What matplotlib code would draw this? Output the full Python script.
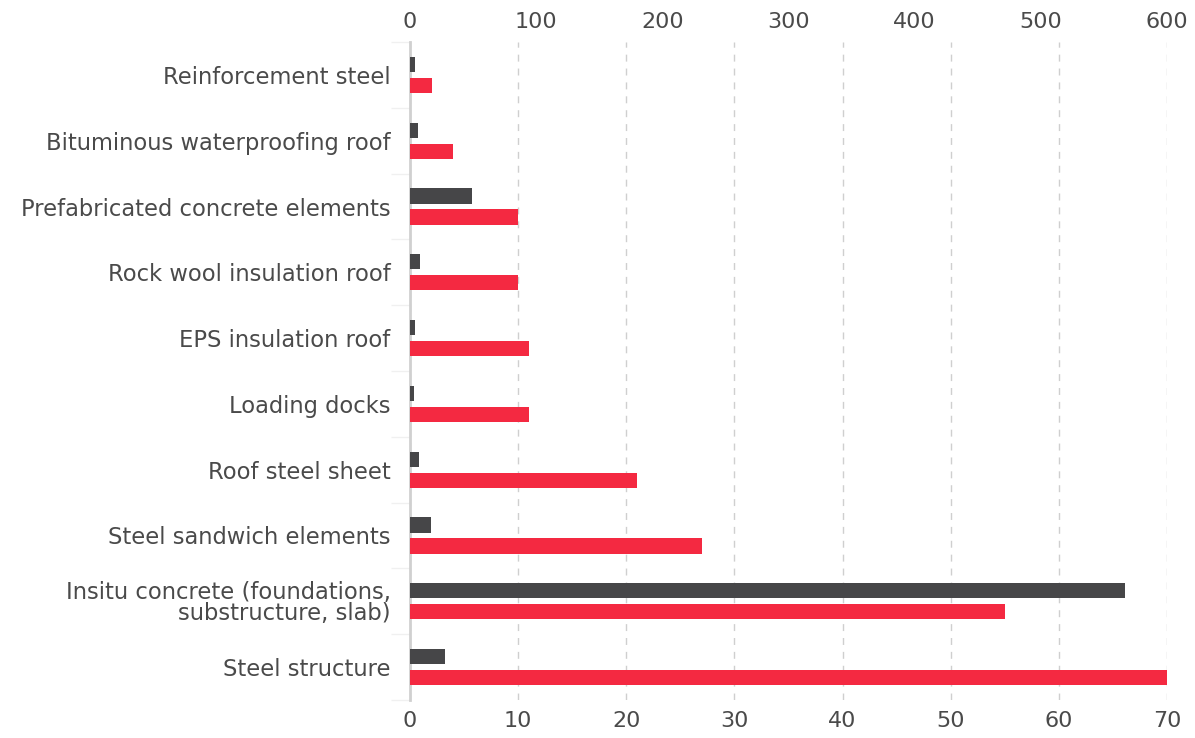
import matplotlib.pyplot as plt
import numpy as np

# ===== DATA =====
categories = [
    "Reinforcement steel",
    "Bituminous waterproofing roof",
    "Prefabricated concrete elements",
    "Rock wool insulation roof",
    "EPS insulation roof",
    "Loading docks",
    "Roof steel sheet",
    "Steel sandwich elements",
    "Insitu concrete (foundations,\nsubstructure, slab)",
    "Steel structure",
]
# dark series -> top axis (0-600)
dark_values = [4, 6, 49, 8, 4, 3, 7, 17, 567, 28]
# red series -> bottom axis (0-70)
red_values = [2, 4, 10, 10, 11, 11, 21, 27, 55, 70]

top_ticks = [0, 100, 200, 300, 400, 500, 600]
bottom_ticks = [0, 10, 20, 30, 40, 50, 60, 70]

DARK = "#464648"
RED = "#f42941"
TEXT = "#4a4a4a"
GRID = "#cfcfcf"

plt.rcParams['font.family'] = ['DejaVu Sans']

fig = plt.figure(figsize=(11.95, 7.38), dpi=100)
ax = fig.add_axes([410 / 1195, 1 - 700 / 738, 757 / 1195, 658 / 738])
ax2 = ax.twiny()

y = np.arange(len(categories))
h = 0.23
off = 0.16

ax.barh(y + off, red_values, height=h, color=RED, zorder=3)
ax2.barh(y - off, dark_values, height=h, color=DARK, zorder=3)

ax.set_xlim(0, 70)
ax2.set_xlim(0, 600)
ax.set_ylim(len(categories) - 0.5, -0.5)

ax.set_xticks(bottom_ticks)
ax2.set_xticks(top_ticks)
ax.set_yticks(y)
ax.set_yticklabels(categories, fontsize=16.3, color=TEXT, linespacing=0.9)
ax.set_yticks(np.arange(len(categories) + 1) - 0.5, minor=True)

ax.tick_params(axis='x', length=0, labelsize=16, labelcolor=TEXT, pad=8)
ax2.tick_params(axis='x', length=0, labelsize=16, labelcolor=TEXT, pad=7)
ax.tick_params(axis='y', which='major', length=0, pad=14)
ax.tick_params(axis='y', which='minor', length=14, color="#f0f0f0", width=1)

ax.grid(axis='x', color=GRID, linestyle=(0, (5, 5)), linewidth=1, zorder=0)
ax.set_axisbelow(True)

for a in (ax, ax2):
    for s in ['top', 'right', 'bottom', 'left']:
        a.spines[s].set_visible(False)
ax.spines['left'].set_visible(True)
ax.spines['left'].set_color("#d0d0d0")
ax.spines['left'].set_linewidth(2)

fig.savefig("out.png", dpi=100)
